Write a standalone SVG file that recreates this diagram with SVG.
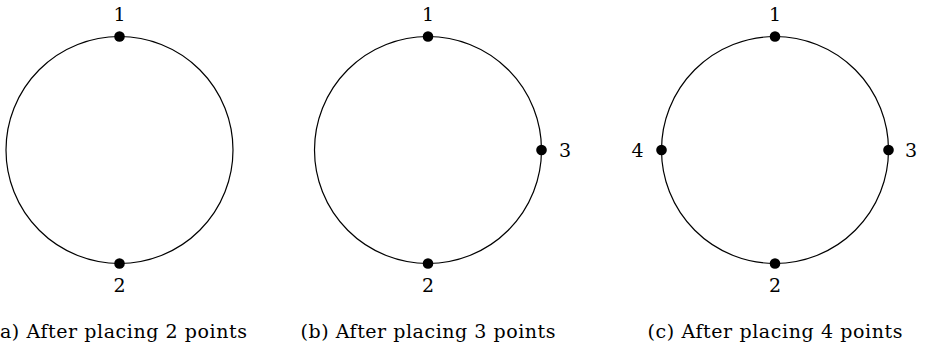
<svg xmlns="http://www.w3.org/2000/svg" width="925" height="349" viewBox="0 0 925 349">
<style>
.ring{fill:none;stroke:#000;stroke-width:1.2}
.pt{fill:#000}
.lbl{font-family:"DejaVu Serif","Liberation Serif",serif;font-size:19px;fill:#000;text-anchor:middle}
.cap{font-family:"DejaVu Serif","Liberation Serif",serif;font-size:19px;fill:#000;text-anchor:middle}
</style>
<rect width="925" height="349" fill="#fff"/>
<g id="panel-a">
  <circle class="ring" cx="119.5" cy="150" r="113.5"/>
  <g id="a-p1"><circle class="pt" cx="119.5" cy="36.5" r="5.3"/><text class="lbl" x="119.5" y="21">1</text></g>
  <g id="a-p2"><circle class="pt" cx="119.5" cy="263.5" r="5.3"/><text class="lbl" x="119.5" y="292">2</text></g>
  <text class="cap" x="119.5" y="338" textLength="255" lengthAdjust="spacing">(a) After placing 2 points</text>
</g>
<g id="panel-b">
  <circle class="ring" cx="428" cy="150" r="113.5"/>
  <g id="b-p1"><circle class="pt" cx="428" cy="36.5" r="5.3"/><text class="lbl" x="428" y="21">1</text></g>
  <g id="b-p2"><circle class="pt" cx="428" cy="263.5" r="5.3"/><text class="lbl" x="428" y="292">2</text></g>
  <g id="b-p3"><circle class="pt" cx="541.5" cy="150" r="5.3"/><text class="lbl" x="565" y="157">3</text></g>
  <text class="cap" x="428" y="338" textLength="255" lengthAdjust="spacing">(b) After placing 3 points</text>
</g>
<g id="panel-c">
  <circle class="ring" cx="775" cy="150" r="113.5"/>
  <g id="c-p1"><circle class="pt" cx="775" cy="36.5" r="5.3"/><text class="lbl" x="775" y="21">1</text></g>
  <g id="c-p2"><circle class="pt" cx="775" cy="263.5" r="5.3"/><text class="lbl" x="775" y="292">2</text></g>
  <g id="c-p3"><circle class="pt" cx="888.5" cy="150" r="5.3"/><text class="lbl" x="911" y="157">3</text></g>
  <g id="c-p4"><circle class="pt" cx="661.5" cy="150" r="5.3"/><text class="lbl" x="637.5" y="157">4</text></g>
  <text class="cap" x="775" y="338" textLength="255" lengthAdjust="spacing">(c) After placing 4 points</text>
</g>
<g id="connectors"/>
</svg>
